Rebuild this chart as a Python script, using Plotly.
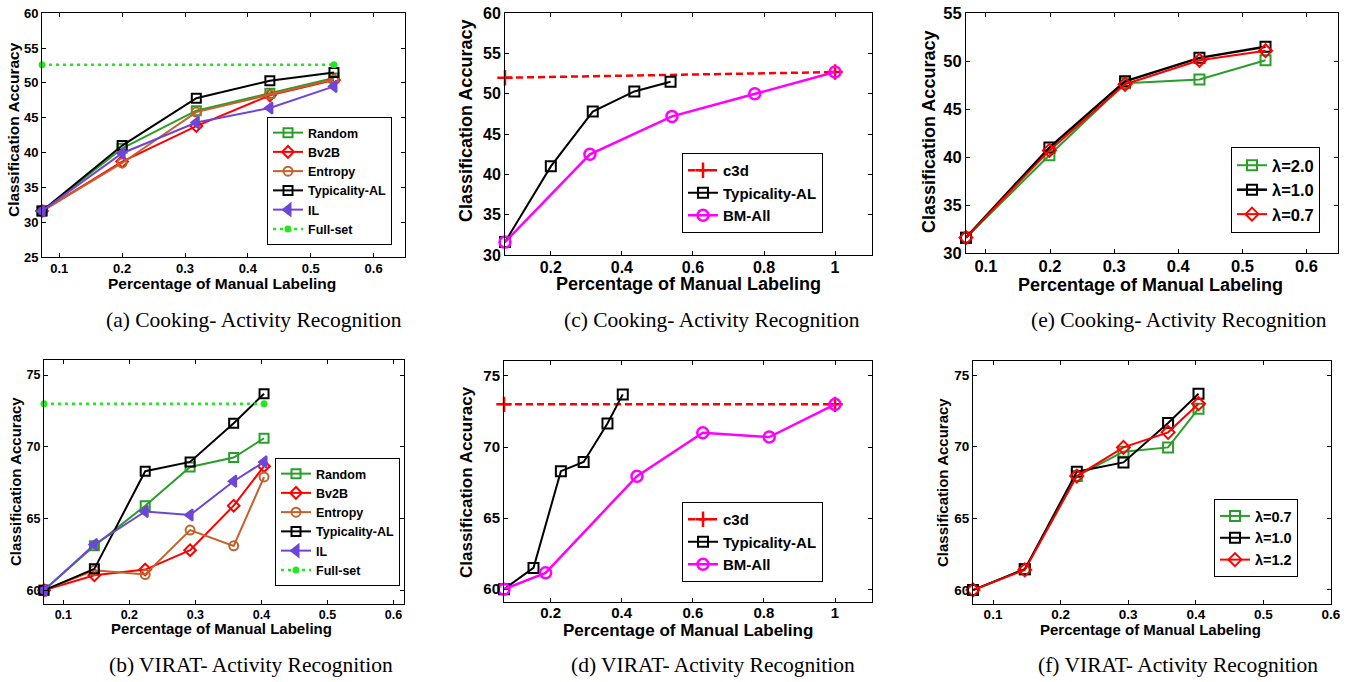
import plotly.graph_objects as go

W, H = 1364, 682

# ---------------- data ----------------
# Cooking dataset (top row)
cook_x = [0.0725, 0.2, 0.318, 0.435, 0.537]
a_random = [31.6, 40.6, 46.0, 48.5, 50.7]
a_bv2b = [31.6, 38.7, 43.8, 48.2, 50.4]
a_entropy = [31.6, 38.5, 45.8, 48.3, 50.5]
a_typicality = [31.6, 41.0, 47.8, 50.3, 51.5]
a_il = [31.6, 39.9, 44.3, 46.4, 49.5]
a_full_x = [0.0725, 0.537]
a_full = [52.6, 52.6]

c_c3d_x = [0.071, 1.0]
c_c3d = [52.0, 52.7]
c_typ_x = [0.071, 0.2, 0.318, 0.435, 0.537]
c_typ = [31.6, 41.0, 47.8, 50.3, 51.5]
c_bm_x = [0.071, 0.31, 0.541, 0.774, 1.0]
c_bm = [31.6, 42.5, 47.2, 50.0, 52.7]

e_x = [0.069, 0.199, 0.317, 0.433, 0.536]
e_l20 = [31.6, 40.2, 47.7, 48.1, 50.1]
e_l10 = [31.6, 41.0, 47.9, 50.35, 51.5]
e_l07 = [31.6, 40.7, 47.6, 50.1, 51.1]

# VIRAT dataset (bottom row)
virat_x = [0.0707, 0.147, 0.224, 0.292, 0.358, 0.404]
b_random = [60.0, 63.1, 65.9, 68.6, 69.25, 70.6]
b_bv2b = [60.0, 61.05, 61.45, 62.8, 65.9, 68.65]
b_entropy = [60.0, 61.4, 61.1, 64.2, 63.1, 67.9]
b_typ = [60.0, 61.5, 68.3, 68.95, 71.65, 73.7]
b_il = [60.0, 63.2, 65.5, 65.25, 67.6, 68.95]
b_full_x = [0.0707, 0.404]
b_full = [73.0, 73.0]

d_c3d_x = [0.069, 1.0]
d_c3d = [73.0, 73.0]
d_typ_x = [0.069, 0.152, 0.229, 0.293, 0.36, 0.403]
d_typ = [60.0, 61.5, 68.3, 68.95, 71.65, 73.7]
d_bm_x = [0.069, 0.186, 0.443, 0.628, 0.815, 1.0]
d_bm = [60.0, 61.15, 67.95, 71.0, 70.7, 73.0]

f_x = [0.0704, 0.147, 0.224, 0.293, 0.359, 0.404]
f_l07 = [60.0, 61.45, 67.95, 69.65, 69.95, 72.65]
f_l10 = [60.0, 61.45, 68.25, 68.9, 71.65, 73.7]
f_l12 = [60.0, 61.4, 67.95, 69.95, 71.0, 73.0]

captions = ["(a) Cooking- Activity Recognition", "(c) Cooking- Activity Recognition",
            "(e) Cooking- Activity Recognition", "(b) VIRAT- Activity Recognition",
            "(d) VIRAT- Activity Recognition", "(f) VIRAT- Activity Recognition"]
x_title = "Percentage of Manual Labeling"
y_title = "Classification Accuracy"

x_ticks_small = [0.1, 0.2, 0.3, 0.4, 0.5, 0.6]
x_ticks_small_txt = ["0.1", "0.2", "0.3", "0.4", "0.5", "0.6"]
x_ticks_big = [0.2, 0.4, 0.6, 0.8, 1.0]
x_ticks_big_txt = ["0.2", "0.4", "0.6", "0.8", "1"]

# ---------------- styles ----------------
GREEN = "#2a9e2a"
RED = "#ff0000"
BROWN = "#c4622d"
BLACK = "#000000"
PURPLE = "#6f45d6"
LIME = "#22e822"
MAGENTA = "#ff00ff"
FONT = "Liberation Sans"
DASH = "7px,4px"
DOT = "3px,4px"

fig = go.Figure()


def px2x(p):
    return p / W


def px2y(p):
    return 1 - p / H


# panel geometry in pixels: (left, right, top, bottom); title positions
panels = {
    1: dict(box=(42, 405, 13, 257), xr=[0.0725, 0.65], yr=[25, 60.03], yt=list(range(25, 61, 5)),
            xt=(x_ticks_small, x_ticks_small_txt), tick=13, title=15.5, xso=-1,
            xtp=(222, 283), ytp=(13, 130)),
    2: dict(box=(505, 872, 13, 255), xr=[0.071, 1.104], yr=[30, 60.03], yt=list(range(30, 61, 5)),
            xt=(x_ticks_big, x_ticks_big_txt), tick=16, title=18, xso=-2,
            xtp=(688, 284), ytp=(466, 121)),
    3: dict(box=(966, 1338, 13, 253), xr=[0.069, 0.649], yr=[30, 55.03], yt=list(range(30, 56, 5)),
            xt=(x_ticks_small, x_ticks_small_txt), tick=16.5, title=18, xso=-2,
            xtp=(1150, 285), ytp=(929, 132)),
    4: dict(box=(44, 404, 360, 604), xr=[0.0707, 0.616], yr=[59.05, 76.05], yt=[60, 65, 70, 75],
            xt=(x_ticks_small, x_ticks_small_txt), tick=12.5, title=15, xso=-1,
            xtp=(221, 628), ytp=(15, 482)),
    5: dict(box=(504, 872, 361, 602), xr=[0.069, 1.104], yr=[59.1, 76.05], yt=[60, 65, 70, 75],
            xt=(x_ticks_big, x_ticks_big_txt), tick=15, title=17, xso=-3,
            xtp=(688, 630), ytp=(466, 482)),
    6: dict(box=(973, 1331, 361, 604), xr=[0.0704, 0.6], yr=[59.02, 75.98], yt=[60, 65, 70, 75],
            xt=(x_ticks_small, x_ticks_small_txt), tick=13.5, title=15, xso=-2,
            xtp=(1150, 629), ytp=(942, 483)),
}

layout_axes = {}
annotations = []
for i, p in panels.items():
    l, r, t, b = p["box"]
    xn = "xaxis" if i == 1 else f"xaxis{i}"
    yn = "yaxis" if i == 1 else f"yaxis{i}"
    common = dict(showline=True, linecolor="black", linewidth=1, mirror="ticks", ticks="inside",
                  ticklen=4, tickcolor="black", showgrid=False, zeroline=False, automargin=False,
                  tickfont=dict(family=FONT, size=p["tick"], color="black", weight="bold"))
    layout_axes[xn] = dict(common, domain=[px2x(l), px2x(r)], range=p["xr"],
                           anchor=f"y{'' if i == 1 else i}", ticklabelstandoff=p["xso"],
                           tickvals=p["xt"][0], ticktext=p["xt"][1])
    layout_axes[yn] = dict(common, domain=[px2y(b), px2y(t)], range=p["yr"],
                           anchor=f"x{'' if i == 1 else i}",
                           tickvals=p["yt"], ticktext=[str(v) for v in p["yt"]])
    tfont = dict(family=FONT, size=p["title"], color="black", weight="bold")
    annotations.append(dict(text=x_title, x=px2x(p["xtp"][0]), y=px2y(p["xtp"][1]),
                            xref="paper", yref="paper", xanchor="center", yanchor="middle",
                            showarrow=False, font=tfont))
    annotations.append(dict(text=y_title, x=px2x(p["ytp"][0]), y=px2y(p["ytp"][1]),
                            xref="paper", yref="paper", xanchor="center", yanchor="middle",
                            showarrow=False, textangle=-90, font=tfont))


def add(i, x, y, name, color, symbol, msize=9, lw=2, dash="solid", mlw=2):
    fig.add_trace(go.Scatter(
        x=x, y=y, name=name, mode="lines+markers", cliponaxis=False,
        line=dict(color=color, width=lw, dash=dash),
        marker=dict(symbol=symbol, size=msize, color=color, line=dict(color=color, width=mlw)),
        xaxis="x" if i == 1 else f"x{i}", yaxis="y" if i == 1 else f"y{i}",
        legend="legend" if i == 1 else f"legend{i}"))


# (a)
add(1, cook_x, a_random, "Random", GREEN, "square-open")
add(1, cook_x, a_bv2b, "Bv2B", RED, "diamond-open")
add(1, cook_x, a_entropy, "Entropy", BROWN, "circle-open")
add(1, cook_x, a_typicality, "Typicality-AL", BLACK, "square-open")
add(1, cook_x, a_il, "IL", PURPLE, "triangle-left", msize=10)
add(1, a_full_x, a_full, "Full-set", LIME, "circle", msize=7, lw=2.5, dash=DOT, mlw=0)
# (c)
add(2, c_c3d_x, c_c3d, "c3d", RED, "cross-thin-open", msize=11, lw=2.5, dash=DASH, mlw=2.5)
add(2, c_typ_x, c_typ, "Typicality-AL", BLACK, "square-open", msize=10, lw=2)
add(2, c_bm_x, c_bm, "BM-All", MAGENTA, "circle-open", msize=11, lw=2.5, mlw=2.5)
# (e)
add(3, e_x, e_l20, "λ=2.0", GREEN, "square-open", msize=10, lw=2)
add(3, e_x, e_l10, "λ=1.0", BLACK, "square-open", msize=10, lw=2.5)
add(3, e_x, e_l07, "λ=0.7", RED, "diamond-open", msize=10, lw=2)
# (b)
add(4, virat_x, b_random, "Random", GREEN, "square-open")
add(4, virat_x, b_bv2b, "Bv2B", RED, "diamond-open")
add(4, virat_x, b_entropy, "Entropy", BROWN, "circle-open")
add(4, virat_x, b_typ, "Typicality-AL", BLACK, "square-open")
add(4, virat_x, b_il, "IL", PURPLE, "triangle-left", msize=10)
add(4, b_full_x, b_full, "Full-set", LIME, "circle", msize=7, lw=2.5, dash=DOT, mlw=0)
# (d)
add(5, d_c3d_x, d_c3d, "c3d", RED, "cross-thin-open", msize=11, lw=2.5, dash=DASH, mlw=2.5)
add(5, d_typ_x, d_typ, "Typicality-AL", BLACK, "square-open", msize=10, lw=2)
add(5, d_bm_x, d_bm, "BM-All", MAGENTA, "circle-open", msize=11, lw=2.5, mlw=2.5)
# (f)
add(6, f_x, f_l07, "λ=0.7", GREEN, "square-open", msize=10, lw=2)
add(6, f_x, f_l10, "λ=1.0", BLACK, "square-open", msize=10, lw=2)
add(6, f_x, f_l12, "λ=1.2", RED, "diamond-open", msize=10, lw=2)

legend_boxes = {1: (267, 117, 12.5), 2: (682, 153, 15), 3: (1231, 147, 16.5),
                4: (275, 458, 12.5), 5: (682, 502, 15), 6: (1214, 499, 14.5)}
legends = {}
for i, (lx, ly, fs) in legend_boxes.items():
    key = "legend" if i == 1 else f"legend{i}"
    legends[key] = dict(x=px2x(lx), y=px2y(ly), xanchor="left", yanchor="top",
                        bgcolor="white", bordercolor="black", borderwidth=1,
                        font=dict(family=FONT, size=fs, color="black", weight="bold"),
                        tracegroupgap=0, itemwidth=30, traceorder="normal")

cap_pos = [(254, 320), (712, 320), (1179, 320), (251, 665), (713, 665), (1178, 665)]
for t, (cx, cy) in zip(captions, cap_pos):
    annotations.append(dict(text=t, x=px2x(cx), y=px2y(cy), xref="paper", yref="paper",
                            xanchor="center", yanchor="middle", showarrow=False,
                            font=dict(family="Liberation Serif", size=21.5, color="black")))

fig.update_layout(width=W, height=H, margin=dict(l=0, r=0, t=0, b=0),
                  paper_bgcolor="white", plot_bgcolor="white", showlegend=True,
                  annotations=annotations, **layout_axes, **legends)

fig.write_html("out.html", config={"displayModeBar": False},
               post_script="document.body.style.margin='0px';")
